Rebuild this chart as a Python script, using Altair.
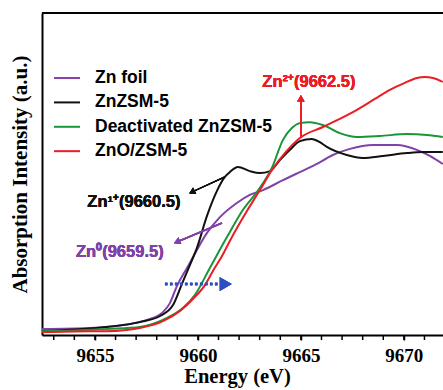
import altair as alt
import pandas as pd

# ---- data (energy in eV, normalised absorption) ----
series_names = ["Zn foil", "ZnZSM-5", "Deactivated ZnZSM-5", "ZnO/ZSM-5"]
series_colors = ["#8041a8", "#111111", "#17963a", "#ec1c24"]

foil_e = [9652.43, 9654.76, 9656.36, 9657.52, 9658.30, 9658.64, 9658.98, 9659.47, 9659.95,
          9660.44, 9661.07, 9661.89, 9662.52, 9663.16, 9664.13, 9664.95, 9665.68, 9666.55,
          9667.38, 9668.50, 9669.66, 9670.63, 9671.26, 9671.89]
foil_i = [0.019, 0.022, 0.031, 0.047, 0.071, 0.099, 0.152, 0.208, 0.264,
          0.317, 0.366, 0.410, 0.435, 0.450, 0.481, 0.506, 0.528, 0.559,
          0.578, 0.590, 0.590, 0.575, 0.556, 0.531]

znzsm_e = [9652.43, 9654.03, 9655.58, 9657.18, 9658.16, 9658.79, 9659.22, 9659.61, 9659.95,
           9660.44, 9660.92, 9661.31, 9661.55, 9661.94, 9662.52, 9663.01, 9663.50, 9663.98,
           9664.47, 9664.95, 9665.53, 9665.92, 9666.26, 9667.23, 9668.01, 9668.98, 9670.15,
           9670.92, 9671.89]
znzsm_i = [0.012, 0.017, 0.025, 0.040, 0.059, 0.093, 0.158, 0.217, 0.270,
           0.370, 0.447, 0.491, 0.506, 0.522, 0.509, 0.503, 0.509, 0.543,
           0.575, 0.602, 0.609, 0.599, 0.584, 0.559, 0.550, 0.556, 0.565,
           0.568, 0.568]

deact_e = [9652.43, 9654.03, 9655.58, 9657.18, 9658.50, 9659.27, 9659.85, 9660.58, 9661.41,
           9662.18, 9663.01, 9663.59, 9664.13, 9664.56, 9664.95, 9665.44, 9666.07, 9666.89,
           9667.72, 9668.83, 9670.15, 9671.12, 9671.89]
deact_i = [0.012, 0.014, 0.019, 0.025, 0.053, 0.084, 0.124, 0.208, 0.304,
           0.388, 0.457, 0.519, 0.606, 0.643, 0.658, 0.661, 0.652, 0.627,
           0.615, 0.618, 0.624, 0.621, 0.615]

zno_e = [9652.43, 9654.03, 9655.58, 9657.18, 9658.30, 9659.13, 9659.76, 9660.34, 9660.73,
         9661.17, 9661.55, 9662.38, 9663.01, 9663.59, 9664.22, 9664.95, 9666.07, 9666.89,
         9667.72, 9668.59, 9669.32, 9670.05, 9670.63, 9671.02, 9671.41, 9671.89]
zno_i = [0.009, 0.011, 0.012, 0.022, 0.043, 0.075, 0.112, 0.155, 0.199,
         0.245, 0.292, 0.385, 0.450, 0.512, 0.565, 0.612, 0.646, 0.671,
         0.699, 0.733, 0.761, 0.783, 0.798, 0.801, 0.798, 0.786]

major_ticks = [9655, 9660, 9665, 9670]
minor_ticks = list(range(9653, 9672))

# ---- tables built from the arrays ----
rows = []
for name, es, ys in zip(series_names,
                        [foil_e, znzsm_e, deact_e, zno_e],
                        [foil_i, znzsm_i, deact_i, zno_i]):
    for k, (e, v) in enumerate(zip(es, ys)):
        rows.append({"series": name, "energy": e, "intensity": v, "k": k})
df = pd.DataFrame(rows)
legend_df = pd.DataFrame({"series": series_names})
minor_df = pd.DataFrame({"energy": minor_ticks})

color_scale = alt.Scale(domain=series_names, range=series_colors)
x_scale = alt.Scale(domain=[9652.43, 9671.9], nice=False, zero=False)
y_scale = alt.Scale(domain=[0, 1], nice=False, zero=False)

SERIF = "Liberation Serif"
SANS = "Liberation Sans"

lines = alt.Chart(df).mark_line(strokeWidth=2, interpolate="monotone", clip=True).encode(
    x=alt.X("energy:Q", scale=x_scale,
            axis=alt.Axis(values=major_ticks, grid=False, title="Energy (eV)",
                          labelExpr="'\u00a0\u00a0' + format(datum.value, 'd')",
                          labelOverlap=False, labelFlush=False,
                          tickSize=5, tickWidth=1.5, tickColor="black",
                          domainColor="black", domainWidth=2,
                          labelFont=SERIF, labelFontSize=19, labelFontWeight="bold",
                          labelColor="black", labelPadding=6,
                          titleFont=SERIF, titleFontSize=20.5, titleFontWeight="bold",
                          titleColor="black", titlePadding=1, titleX=195)),
    y=alt.Y("intensity:Q", scale=y_scale,
            axis=alt.Axis(labels=False, ticks=False, grid=False,
                          title="Absorption Intensity (a.u.)",
                          domainColor="black", domainWidth=2,
                          titleFont=SERIF, titleFontSize=21, titleFontWeight="bold",
                          titleColor="black", titlePadding=12)),
    color=alt.Color("series:N", scale=color_scale, legend=None),
    order="k:Q",
    detail="series:N",
)

minor = alt.Chart(minor_df).mark_rule(color="black", strokeWidth=1.5).encode(
    x=alt.X("energy:Q", scale=x_scale),
    y=alt.value(322), y2=alt.value(327),
)

top_border = alt.Chart(legend_df).mark_rule(color="black", strokeWidth=2).encode(
    x=alt.value(0), x2=alt.value(401), y=alt.value(0)
)

legend_base = alt.Chart(legend_df).transform_window(
    row="row_number()"
).transform_calculate(
    ly="0.798 - 0.0757 * (datum.row - 1)"
)
legend_lines = legend_base.mark_rule(strokeWidth=2).encode(
    x=alt.value(12), x2=alt.value(38),
    y=alt.Y("ly:Q", scale=y_scale),
    color=alt.Color("series:N", scale=color_scale, legend=None),
)
legend_text = legend_base.mark_text(
    align="left", baseline="middle", font=SANS, fontSize=17.5, fontWeight="bold", color="black"
).encode(
    x=alt.value(53),
    y=alt.Y("ly:Q", scale=y_scale),
    text="series:N",
)

def label(text, e, v, color):
    return alt.Chart(legend_df).mark_text(
        align="center", baseline="middle", font=SANS, fontSize=16.5,
        fontWeight="bold", color=color
    ).encode(x=alt.datum(e), y=alt.datum(v), text=alt.value(text))

def arrow(e1, v1, e2, v2, color, angle, width=1.2, head=45):
    line = alt.Chart(legend_df).mark_rule(color=color, strokeWidth=width).encode(
        x=alt.datum(e1), y=alt.datum(v1), x2=alt.datum(e2), y2=alt.datum(v2))
    tip = alt.Chart(legend_df).mark_point(
        shape="triangle-up", filled=True, color=color, opacity=1, size=head, angle=angle
    ).encode(x=alt.datum(e2), y=alt.datum(v2))
    return line + tip

lab_zn2 = label("Zn²⁺(9662.5)", 9665.39, 0.786, "#ec1c24")
lab_zn1 = label("Zn¹⁺(9660.5)", 9656.89, 0.413, "#111111")
lab_zn0 = label("Zn⁰(9659.5)", 9656.21, 0.258, "#8041a8")

arr_zn2 = arrow(9665.0, 0.615, 9665.0, 0.735, "#ec1c24", 0, width=1.5, head=55)
arr_zn1 = arrow(9661.31, 0.491, 9659.71, 0.444, "#111111", 243, head=50)
arr_zn0 = arrow(9661.17, 0.348, 9658.98, 0.289, "#8041a8", 247, width=1.5, head=55)

blue_line = alt.Chart(legend_df).mark_rule(
    color="#2e4fbf", strokeWidth=2.5, strokeDash=[2.5, 2.5]
).encode(x=alt.datum(9658.40), x2=alt.datum(9660.97), y=alt.datum(0.158))
blue_tip = alt.Chart(legend_df).mark_point(
    shape="triangle-right", filled=True, color="#2e4fbf", opacity=1, size=190
).encode(x=alt.datum(9661.35), y=alt.datum(0.158))

chart = alt.layer(
    lines, minor, top_border, legend_lines, legend_text,
    lab_zn2, lab_zn1, lab_zn0, arr_zn2, arr_zn1, arr_zn0, blue_line, blue_tip
).properties(
    width=401, height=322,
    padding={"left": 42, "top": 13, "right": 0, "bottom": 55},
    autosize=alt.AutoSizeParams(type="none"),
).configure_view(stroke=None)

chart.save("out.html", embed_options={"renderer": "svg", "actions": False})
